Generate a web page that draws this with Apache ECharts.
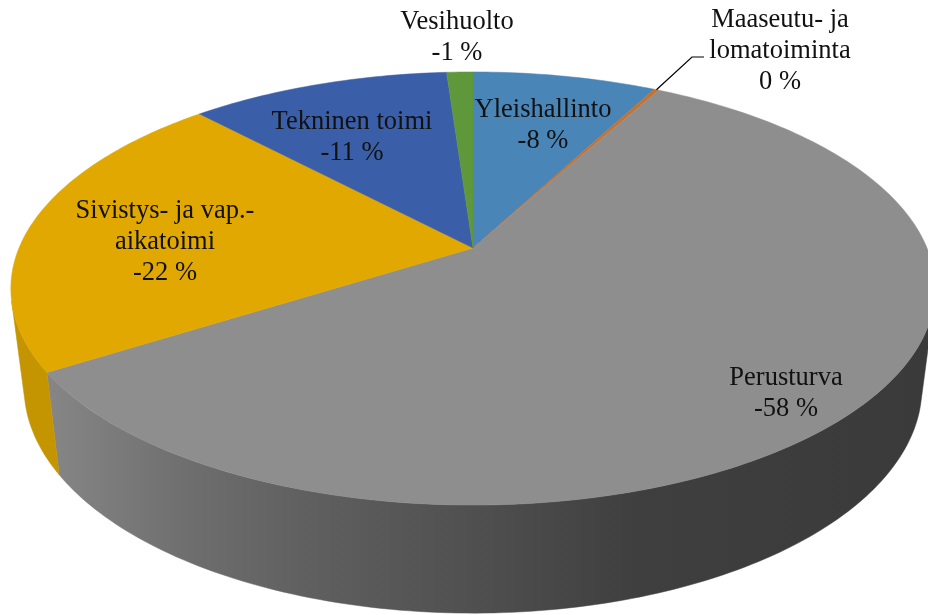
<!DOCTYPE html>
<html>
<head>
<meta charset="utf-8">
<style>
  html, body { margin: 0; padding: 0; background: #ffffff; }
  #chart { width: 928px; height: 615px; }
</style>
<script src="https://cdn.jsdelivr.net/npm/echarts@6/dist/echarts.min.js"></script>
</head>
<body>
<div id="chart"></div>
<script>
// order is clockwise from 12 o'clock, as in the picture
var categories = ['Yleishallinto', 'Maaseutu- ja\nlomatoiminta', 'Perusturva', 'Sivistys- ja vap.-\naikatoimi', 'Tekninen toimi', 'Vesihuolto'];
var shares = [-7.7, -0.2, -58.1, -22, -10.9, -1.1];
var topColors = ['#4a85b8', '#c8702c', '#8e8e8e', '#e0a800', '#3a5fa8', '#5f973b'];
var wallColors = ['#3f6f9a', '#a85e25', null, '#c49500', '#304f8c', '#4f7e31'];

// the pie is a tilted disc seen in perspective: unit circle -> screen
var topFace = { cx: 473, cy: 248, a: 454, b: 209, k: 0.187 };
var bottomFace = { cx: 473, cy: 345, a: 441, b: 218, k: 0.187 };
// the wall's outline leaves the rim at these angles
var wallFrom = 104;
var wallTo = 256;

// label anchors (centre x, centre y of the first line)
var labelAnchors = [[543, 110], [780, 20], [786, 378], [165, 211], [352, 122], [457, 22]];
var lineHeight = 31;

function project(face, deg) {
  var t = deg * Math.PI / 180;
  var u = Math.sin(t);
  var v = -Math.cos(t);
  var d = 1 - face.k * v;
  return [face.cx + face.a * u / d, face.cy + face.b * v / d];
}

function rim(face, from, to) {
  var pts = [];
  var n = Math.max(2, Math.ceil(to - from));
  for (var i = 0; i <= n; i++) {
    pts.push(project(face, from + (to - from) * i / n));
  }
  return pts;
}

var total = shares.reduce(function (s, v) { return s + Math.abs(v); }, 0);
var acc = 0;
var sliceData = shares.map(function (v) {
  var start = acc / total * 360;
  acc += Math.abs(v);
  return [start, acc / total * 360, v];
});

// shading of the big grey wall runs left to right
var greyWall = {
  type: 'linear', global: true, x: 47, y: 0, x2: 928, y2: 0,
  colorStops: [
    { offset: 0, color: '#868686' },
    { offset: 0.17, color: '#6d6d6d' },
    { offset: 0.29, color: '#606060' },
    { offset: 0.48, color: '#505050' },
    { offset: 0.67, color: '#3f3f3f' },
    { offset: 1, color: '#3a3a3a' }
  ]
};

function renderWall(params, api) {
  var i = params.dataIndex;
  // only the front part of the wall can be seen
  var from = Math.max(api.value(0), wallFrom);
  var to = Math.min(api.value(1), wallTo);
  if (to <= from) {
    return null;
  }
  var upper = rim(topFace, from, to);
  var lower = rim(bottomFace, from, to).reverse();
  var fill = wallColors[i] || greyWall;
  return {
    type: 'polygon',
    shape: { points: upper.concat(lower) },
    style: { fill: fill, stroke: fill, lineWidth: 0.5 }
  };
}

function renderTop(params, api) {
  var i = params.dataIndex;
  var start = api.value(0);
  var end = api.value(1);
  var color = topColors[i];
  var points = [[topFace.cx, topFace.cy]].concat(rim(topFace, start, end));
  return {
    type: 'polygon',
    shape: { points: points },
    style: { fill: color, stroke: color, lineWidth: 0.5 }
  };
}

function renderLabel(params, api) {
  var i = params.dataIndex;
  var pos = labelAnchors[i];
  var text = categories[i] + '\n' + Math.round(api.value(2)) + ' %';
  var children = [{
    type: 'text',
    x: pos[0],
    y: pos[1] - lineHeight / 2,
    style: {
      text: text,
      fill: '#111111',
      font: '26.5px "Liberation Serif", serif',
      lineHeight: lineHeight,
      align: 'center',
      verticalAlign: 'top'
    }
  }];
  // only the thin slice has its label outside, with a leader line
  if (i === 1) {
    var tip = project(topFace, (api.value(0) + api.value(1)) / 2);
    children.push({
      type: 'polyline',
      shape: { points: [tip, [692, 57], [704, 57]] },
      style: { fill: 'none', stroke: '#000000', lineWidth: 1.2 }
    });
  }
  return { type: 'group', children: children };
}

var chart = echarts.init(document.getElementById('chart'), null, { renderer: 'canvas' });
chart.setOption({
  backgroundColor: '#ffffff',
  animation: false,
  series: [
    { type: 'custom', coordinateSystem: 'none', silent: true, clip: false, renderItem: renderWall, data: sliceData, z: 1 },
    { type: 'custom', coordinateSystem: 'none', silent: true, clip: false, renderItem: renderTop, data: sliceData, z: 2 },
    { type: 'custom', coordinateSystem: 'none', silent: true, clip: false, renderItem: renderLabel, data: sliceData, z: 3 }
  ]
});
</script>
</body>
</html>
